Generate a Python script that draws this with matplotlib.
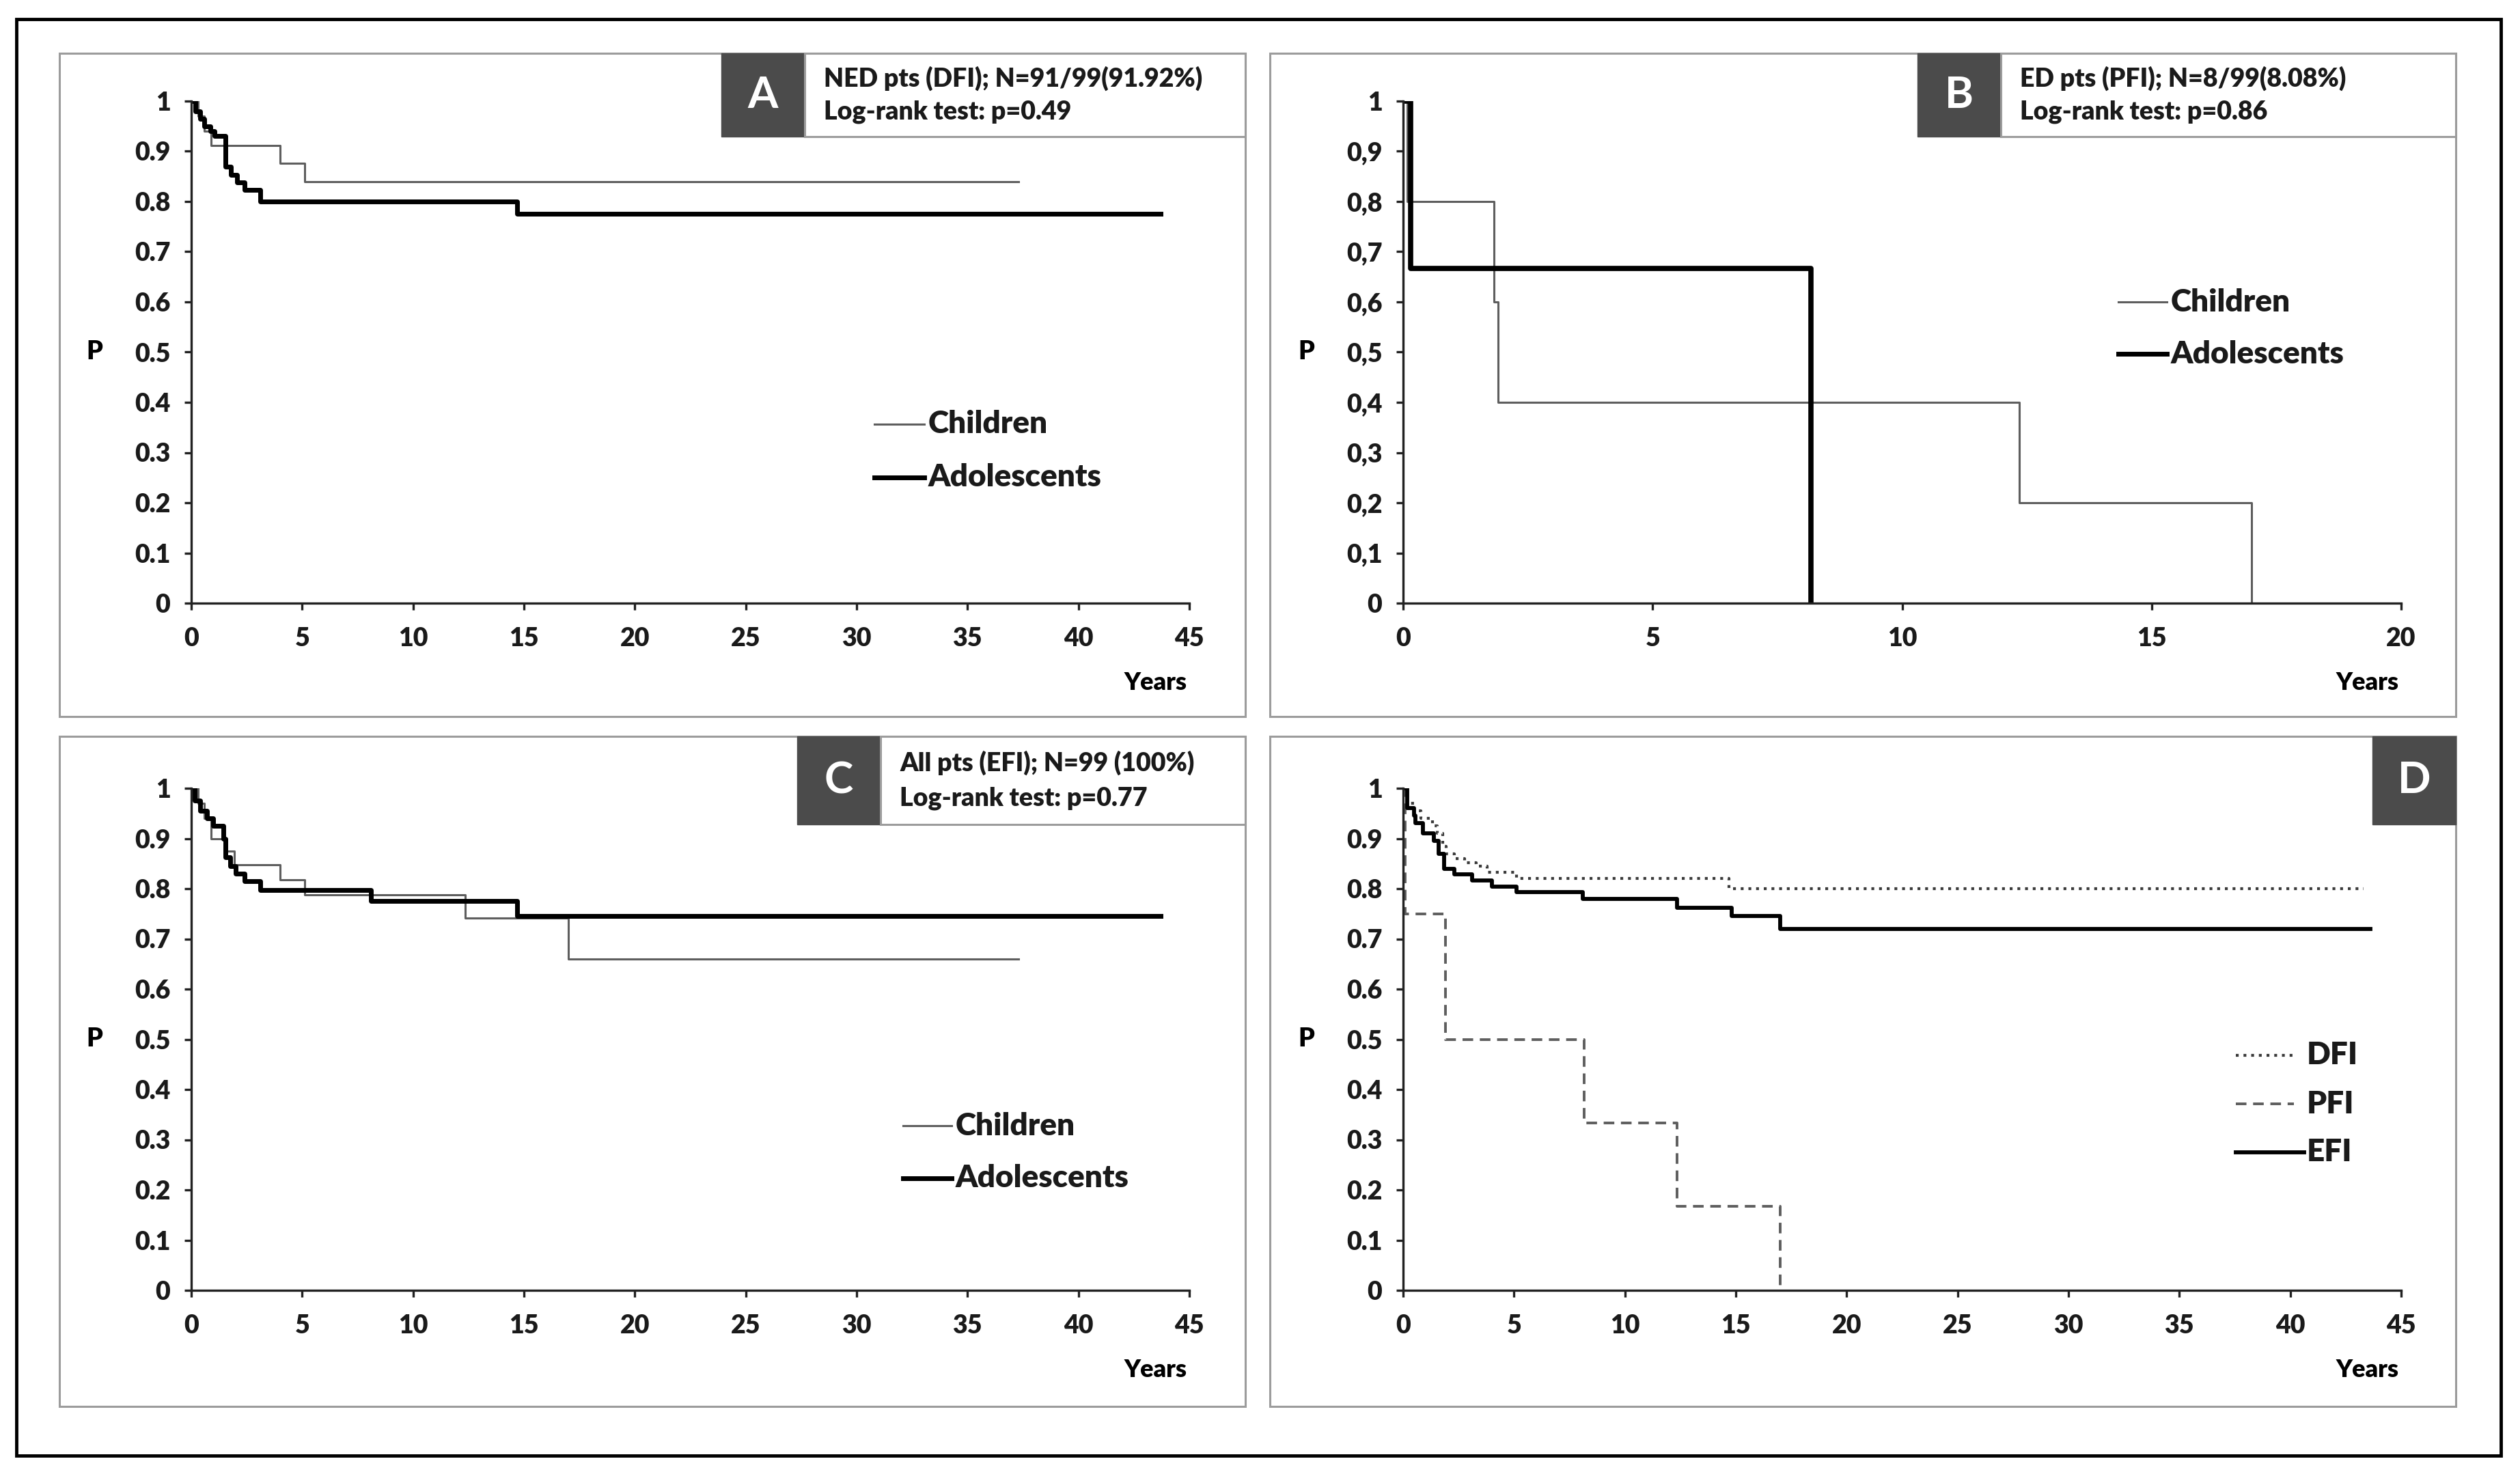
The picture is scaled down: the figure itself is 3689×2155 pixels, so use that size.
import matplotlib
matplotlib.use("Agg")
import matplotlib.pyplot as plt
from matplotlib.patches import Rectangle
from matplotlib.lines import Line2D

plt.rcParams['font.family'] = ['Lato', 'DejaVu Sans']
plt.rcParams['font.weight'] = 'heavy'

W, H = 3689, 2155

# ---- data (years, survival probability after each step) ----
a_child_t = [0, 0.3, 0.6, 0.9, 4.0, 5.1, 37.3]
a_child_s = [1, 0.97, 0.94, 0.912, 0.876, 0.84, 0.84]
a_adol_t = [0, 0.2, 0.4, 0.6, 0.85, 1.05, 1.55, 1.8, 2.05, 2.4, 3.1, 14.7, 43.7]
a_adol_s = [1, 0.98, 0.965, 0.95, 0.94, 0.93, 0.869, 0.853, 0.838, 0.823, 0.80, 0.775, 0.775]

b_child_t = [0, 0.08, 1.82, 1.9, 12.35, 17.0]
b_child_s = [1, 0.8, 0.6, 0.4, 0.2, 0]
b_adol_t = [0, 0.15, 8.17]
b_adol_s = [1, 0.667, 0]

c_child_t = [0, 0.3, 0.6, 0.9, 1.6, 1.95, 4.0, 5.1, 12.35, 17.0, 37.3]
c_child_s = [1, 0.97, 0.94, 0.90, 0.875, 0.847, 0.818, 0.788, 0.742, 0.66, 0.66]
c_adol_t = [0, 0.15, 0.4, 0.7, 1.0, 1.45, 1.55, 1.75, 2.0, 2.4, 3.1, 8.1, 14.7, 43.7]
c_adol_s = [1, 0.975, 0.955, 0.94, 0.925, 0.90, 0.862, 0.845, 0.83, 0.815, 0.797, 0.776, 0.746, 0.746]

d_dfi_t = [0, 0.2, 0.5, 0.8, 1.33, 1.54, 1.8, 1.95, 2.3, 2.77, 3.3, 3.8, 5.1, 14.7, 43.3]
d_dfi_s = [1, 0.97, 0.955, 0.94, 0.925, 0.91, 0.885, 0.87, 0.86, 0.852, 0.845, 0.832, 0.82, 0.80, 0.80]
d_pfi_t = [0, 0.1, 1.9, 8.15, 12.35, 17.0]
d_pfi_s = [1, 0.75, 0.5, 0.333, 0.167, 0]
d_efi_t = [0, 0.2, 0.5, 0.55, 0.9, 1.4, 1.6, 1.85, 2.3, 3.1, 4.0, 5.1, 8.1, 12.35, 14.8, 17.0, 43.6]
d_efi_s = [1, 0.96, 0.945, 0.93, 0.91, 0.895, 0.87, 0.84, 0.828, 0.816, 0.804, 0.793, 0.779, 0.762, 0.745, 0.72, 0.72]

y_ticks = [0, 0.1, 0.2, 0.3, 0.4, 0.5, 0.6, 0.7, 0.8, 0.9, 1]
y_labels_dot = ['0', '0.1', '0.2', '0.3', '0.4', '0.5', '0.6', '0.7', '0.8', '0.9', '1']
y_labels_comma = ['0', '0,1', '0,2', '0,3', '0,4', '0,5', '0,6', '0,7', '0,8', '0,9', '1']
x_ticks_45 = list(range(0, 50, 5))
x_ticks_20 = [0, 5, 10, 15, 20]

info_a = ["NED pts (DFI); N=91/99(91.92%)", "Log-rank test: p=0.49"]
info_b = ["ED pts (PFI); N=8/99(8.08%)", "Log-rank test: p=0.86"]
info_c = ["All pts (EFI); N=99 (100%)", "Log-rank test: p=0.77"]

GRAY = '#5e5e5e'
DARK = '#4b4b4b'
FRAME = '#9c9c9c'
WT = 'heavy'
DOTS = (0, (1, 1.7))
DASH = (0, (4, 2.5))


def frect(x0, y0, x1, y1):
    # pixel box (top-left origin) -> figure fraction rect
    return [x0 / W, 1 - y1 / H, (x1 - x0) / W, (y1 - y0) / H]


fig = plt.figure(figsize=(W / 100, H / 100), dpi=100)

# outer border
fig.patches.append(Rectangle((24 / W, 1 - 2131 / H), (3661 - 24) / W, (2131 - 28) / H,
                             transform=fig.transFigure, fill=False, ec='black', lw=3.5))


def panel_frame(x0, y0, x1, y1):
    fig.patches.append(Rectangle((x0 / W, 1 - y1 / H), (x1 - x0) / W, (y1 - y0) / H,
                                 transform=fig.transFigure, fill=False, ec=FRAME, lw=2.2))


def label_box(letter, sq_x0, y0, y1, right, lines=None):
    fig.patches.append(Rectangle((sq_x0 / W, 1 - y1 / H), 122 / W, (y1 - y0) / H,
                                 transform=fig.transFigure, fc=DARK, ec=DARK, lw=1))
    fig.text((sq_x0 + 61) / W, 1 - ((y0 + y1) / 2) / H, letter, color='white',
             fontsize=46, ha='center', va='center', fontweight='bold')
    if lines:
        fig.patches.append(Rectangle(((sq_x0 + 122) / W, 1 - y1 / H), (right - sq_x0 - 122) / W,
                                     (y1 - y0) / H, transform=fig.transFigure, fill=False,
                                     ec=FRAME, lw=2.2))
        tx = sq_x0 + 150
        fig.text(tx / W, 1 - (y0 + (y1 - y0) * 0.3) / H, lines[0], fontsize=27,
                 ha='left', va='center', color='#1a1a1a', fontweight=WT)
        fig.text(tx / W, 1 - (y0 + (y1 - y0) * 0.7) / H, lines[1], fontsize=27,
                 ha='left', va='center', color='#1a1a1a', fontweight=WT)


def setup_axes(rect, xmax, xticks, ylabels):
    ax = fig.add_axes(rect)
    ax.set_xlim(0, xmax)
    ax.set_ylim(0, 1)
    for s in ['top', 'right']:
        ax.spines[s].set_visible(False)
    for s in ['left', 'bottom']:
        ax.spines[s].set_linewidth(2.4)
        ax.spines[s].set_color('#222222')
    ax.set_xticks(xticks)
    ax.set_xticklabels([str(t) for t in xticks])
    ax.set_yticks(y_ticks)
    ax.set_yticklabels(ylabels)
    ax.tick_params(axis='both', direction='out', length=7, width=2.4, color='#222222',
                   labelsize=27, labelcolor='#1a1a1a')
    ax.tick_params(axis='x', pad=18)
    ax.tick_params(axis='y', pad=15)
    ax.patch.set_alpha(0)
    ax.text(-0.097, 0.5, 'P', transform=ax.transAxes, fontsize=27, ha='center', va='center',
            fontweight=WT)
    ax.text(0.966, -0.159, 'Years', transform=ax.transAxes, fontsize=26, ha='center',
            va='center', fontweight=WT)
    for lab in ax.get_xticklabels() + ax.get_yticklabels():
        lab.set_fontweight(WT)
    return ax


def legend_entry(x0, x1, y, text, tx=None, **kw):
    fig.add_artist(Line2D([x0 / W, x1 / W], [1 - y / H, 1 - y / H], transform=fig.transFigure, **kw))
    if tx is None:
        tx = x1 + 6
    fig.text(tx / W, 1 - y / H, text, fontsize=33, ha='left', va='center', color='#1a1a1a',
             fontweight=WT)


# ---- panel frames ----
panel_frame(87, 78, 1823, 1049)
panel_frame(1859, 78, 3595, 1049)
panel_frame(87, 1078, 1823, 2059)
panel_frame(1859, 1078, 3595, 2059)

# ---- A ----
axA = setup_axes(frect(280, 148, 1741, 883), 45, x_ticks_45, y_labels_dot)
axA.step(a_child_t, a_child_s, where='post', color=GRAY, lw=2.2)
axA.step(a_adol_t, a_adol_s, where='post', color='black', lw=5)
label_box('A', 1056, 78, 200, 1823, info_a)
legend_entry(1280, 1353, 621, 'Children', color=GRAY, lw=2.2)
legend_entry(1280, 1353, 699, 'Adolescents', color='black', lw=5)

# ---- B ----
axB = setup_axes(frect(2054, 148, 3515, 883), 20, x_ticks_20, y_labels_comma)
axB.step(b_child_t, b_child_s, where='post', color=GRAY, lw=2.2)
axB.step(b_adol_t, b_adol_s, where='post', color='black', lw=5.5)
label_box('B', 2807, 78, 200, 3595, info_b)
legend_entry(3101, 3172, 442, 'Children', color=GRAY, lw=2.2)
legend_entry(3101, 3172, 518, 'Adolescents', color='black', lw=5)

# ---- C ----
axC = setup_axes(frect(280, 1154, 1741, 1889), 45, x_ticks_45, y_labels_dot)
axC.step(c_child_t, c_child_s, where='post', color=GRAY, lw=2.2)
axC.step(c_adol_t, c_adol_s, where='post', color='black', lw=5)
label_box('C', 1167, 1078, 1207, 1823, info_c)
legend_entry(1322, 1393, 1648, 'Children', color=GRAY, lw=2.2)
legend_entry(1322, 1393, 1725, 'Adolescents', color='black', lw=5)

# ---- D ----
axD = setup_axes(frect(2054, 1154, 3515, 1889), 45, x_ticks_45, y_labels_dot)
axD.step(d_dfi_t, d_dfi_s, where='post', color='#3a3a3a', lw=3, ls=DOTS)
axD.step(d_pfi_t, d_pfi_s, where='post', color=GRAY, lw=2.8, ls=DASH)
axD.step(d_efi_t, d_efi_s, where='post', color='black', lw=4.2)
label_box('D', 3473, 1078, 1207, 3595)
legend_entry(3273, 3358, 1545, 'DFI', tx=3377, color='#3a3a3a', lw=3, ls=DOTS)
legend_entry(3273, 3358, 1616, 'PFI', tx=3377, color=GRAY, lw=2.8, ls=DASH)
legend_entry(3273, 3373, 1687, 'EFI', tx=3377, color='black', lw=4.2)

fig.savefig('out.png', dpi=100, facecolor='white')
